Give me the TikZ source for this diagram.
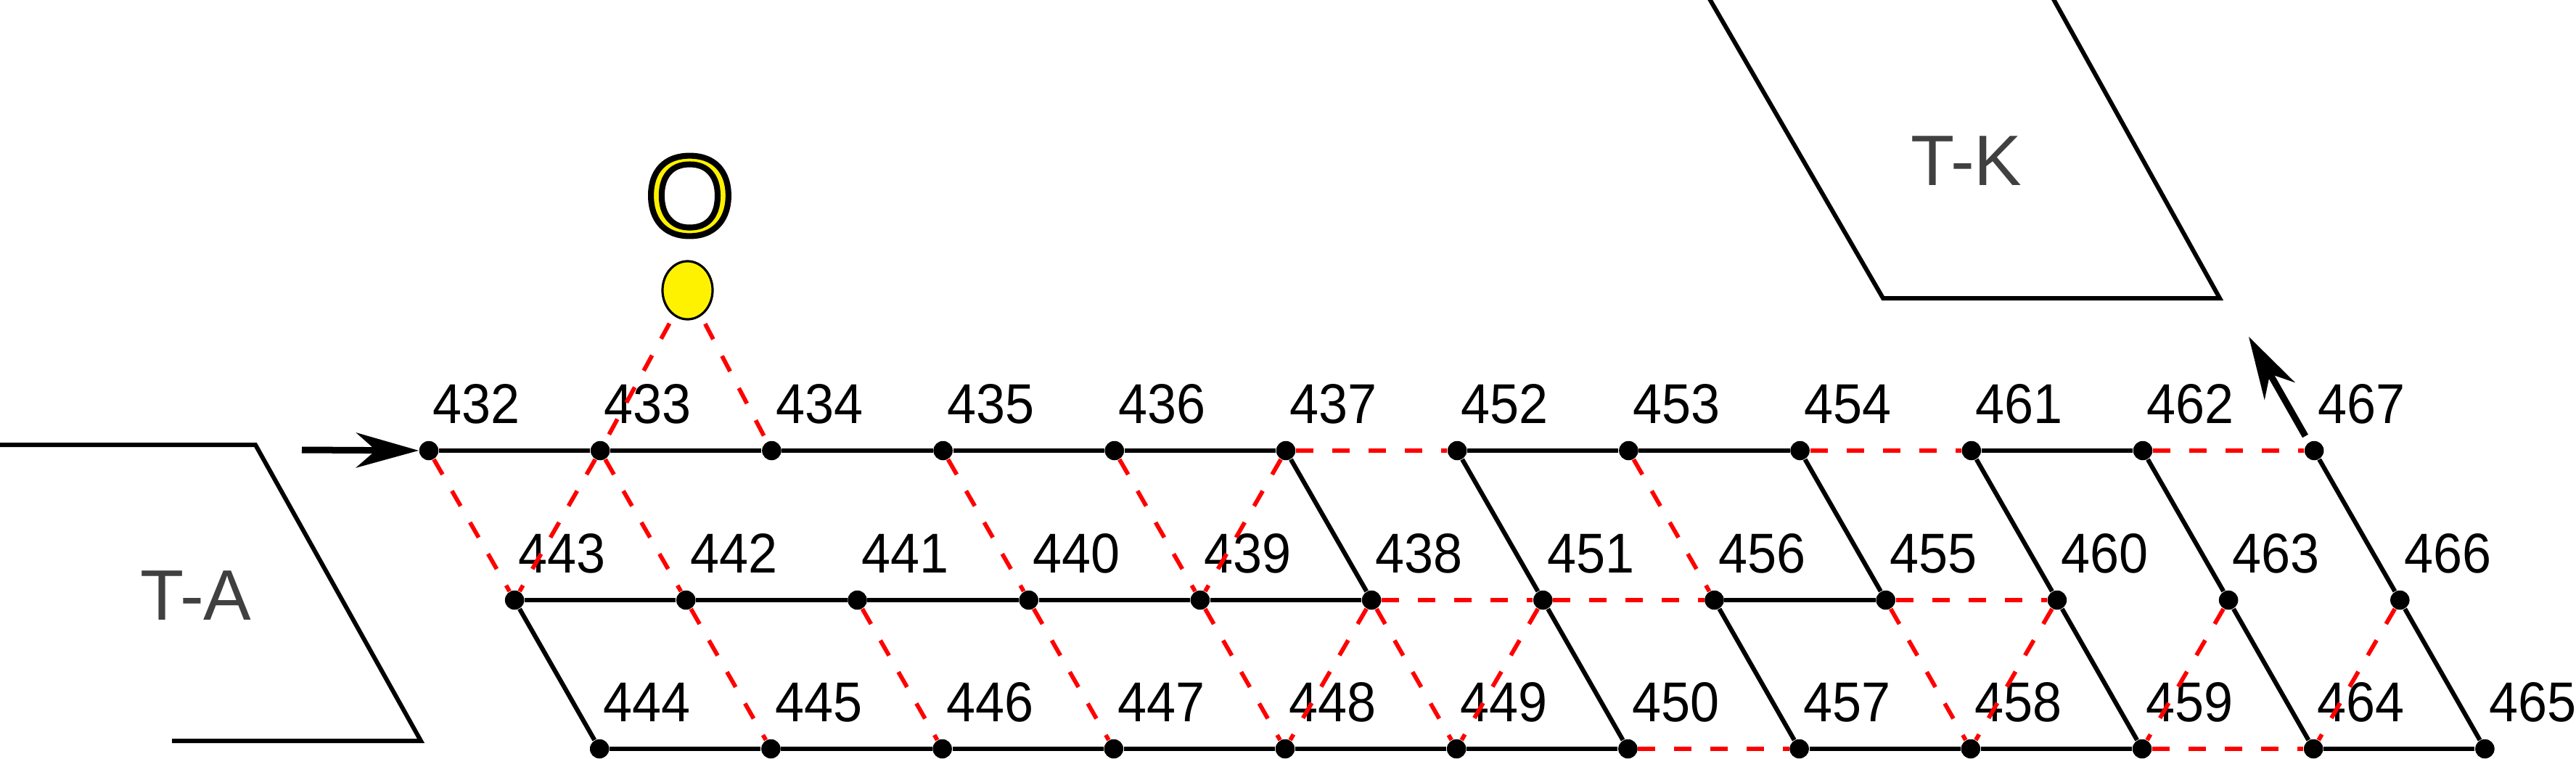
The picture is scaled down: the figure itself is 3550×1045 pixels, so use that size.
\documentclass[tikz,border=0pt]{standalone}
\usepackage{fontspec}
\setmainfont{Liberation Sans}
\newfontfamily\labfont[FakeStretch=0.93]{Liberation Sans}
\usetikzlibrary{arrows.meta,shapes.geometric,calc}
\definecolor{tgray}{RGB}{64,64,64}
\begin{document}
\begin{tikzpicture}[x=0.01cm,y=-0.01cm,
  dot/.style={circle, fill=black, inner sep=0pt, minimum size=0.265cm},
  lab/.style={inner sep=0pt, anchor=base west, font=\labfont\fontsize{22}{25}\selectfont},
  sol/.style={draw=black, line width=0.062cm},
  dsh/.style={draw=red, line width=0.058cm, dash pattern=on 0.24cm off 0.26cm},
  bigarrow/.style={-{Stealth[length=0.86cm, width=0.48cm, inset=0.27cm]}, line width=0.09cm},
  tlab/.style={text=tgray, font=\fontsize{28}{32}\selectfont, inner sep=0pt},
  shp/.style={draw=black, line width=0.06cm, line join=miter},
  ofont/.style={inner sep=0pt, font=\fontsize{44.5}{50}\selectfont}
]
\useasboundingbox (0,0) rectangle (3550,1045);

% terminal shapes
\draw[shp] (-10,613) -- (352,613) -- (580,1021) -- (237,1021);
\node[tlab] (ta) at (270,821) {T-A};
\draw[shp] (2351,-10) -- (2595,411) -- (3059,411) -- (2825,-10);
\node[tlab] (tk) at (2710,222) {T-K};

% grid nodes
\foreach \n [count=\i from 0] in {432,433,434,435,436,437,452,453,454,461,462,467} {
  \node[dot] (n\n) at (591+236.2*\i, 621) {};
  \node[lab] (l\n) at (596+236.2*\i, 583) {\n};
}
\foreach \n [count=\i from 0] in {443,442,441,440,439,438,451,456,455,460,463,466} {
  \node[dot] (n\n) at (709.1+236.2*\i, 827) {};
  \node[lab] (l\n) at (714.1+236.2*\i, 789) {\n};
}
\foreach \n [count=\i from 0] in {444,445,446,447,448,449,450,457,458,459,464,465} {
  \node[dot] (n\n) at (826.2+236.2*\i, 1032) {};
  \node[lab] (l\n) at (831.2+236.2*\i, 994) {\n};
}

% yellow marker
\node[ellipse, draw=black, fill=yellow, line width=0.032cm, inner sep=0pt,
      minimum width=0.69cm, minimum height=0.80cm] (yc) at (947.5,400) {};
\node[ofont] (olet) at (950.5,270) {\color{yellow}\special{pdf:literal direct 0 0 0 RG 2.3 w 2 Tr}O\special{pdf:literal direct 0 Tr}};

% solid edges
\foreach \a/\b in {432/433,433/434,434/435,435/436,436/437,452/453,453/454,461/462,
  443/442,442/441,441/440,440/439,439/438,456/455,
  444/445,445/446,446/447,447/448,448/449,449/450,457/458,458/459,464/465,
  443/444,437/438,452/451,451/450,456/457,454/455,461/460,460/459,462/463,463/464,467/466,466/465}
  \draw[sol] (n\a) -- (n\b);

% dashed edges
\foreach \a/\b in {437/452,454/461,462/467,438/451,451/456,455/460,450/457,459/464,
  432/443,433/443,433/442,442/445,441/446,435/440,440/447,436/439,439/448,437/439,
  438/448,438/449,451/449,453/456,455/458,460/458,463/459,466/464}
  \draw[dsh] (n\a) -- (n\b);
\draw[dsh, shorten <=0.12cm] (yc) -- (n433);
\draw[dsh, shorten <=0.12cm] (yc) -- (n434);

% arrows
\coordinate (ain) at (416,620);
\draw[bigarrow] (ain) -- (n432);
\coordinate (aus) at (3177,601);
\coordinate (aue) at (3099,464);
\draw[bigarrow] (aus) -- (aue);
\end{tikzpicture}
\end{document}
